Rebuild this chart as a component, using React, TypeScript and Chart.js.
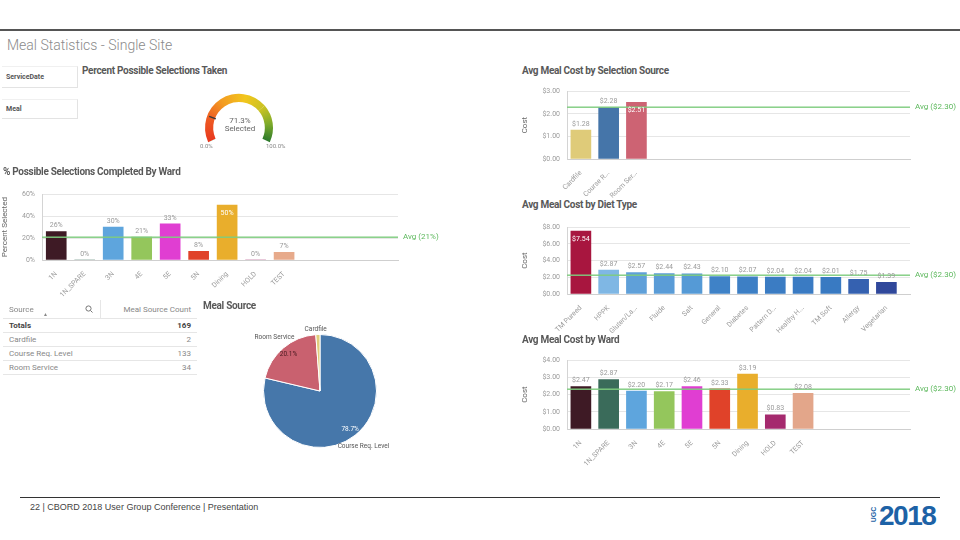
import React, { useEffect, useRef } from 'react';
import { Chart, registerables } from 'chart.js';
Chart.register(...registerables);

const FONT = 'Roboto, "Liberation Sans", sans-serif';

// ---------- data ----------
const gaugeValue = 71.3;
const gaugeMarker = 20;

const wardLabels = ['1N', '1N_SPARE', '3N', '4E', '5E', '5N', 'Dining', 'HOLD', 'TEST'];
const wardPct = [26, 0, 30, 21, 33, 8, 50, 0, 7];
const wardPctColors = ['#3e1a25', '#3a6b5a', '#5ea5dd', '#94c65c', '#e03ed2', '#e04229', '#e9ae2c', '#a52a6e', '#e7aa8b'];
const wardPctAvg = 21;

const sourceLabels = ['Course Req. Level', 'Room Service', 'Cardfile'];
const sourceCounts = [133, 34, 2];
const sourceColors = ['#4677aa', '#c9616f', '#e0cd7b'];
const sourcePctColors = ['#ffffff', '#4a1a20', '#333333'];

const selLabels = ['Cardfile', 'Course R...', 'Room Ser...'];
const selCost = [1.28, 2.28, 2.51];
const selColors = ['#dfcb79', '#4575a9', '#cd6373'];

const dietLabels = ['TM Pureed', 'HPPK', 'Gluten/La...', 'Fluide', 'Salt', 'General', 'Diabetes', 'Pattern D...', 'Healthy H...', 'TM Soft', 'Allergy', 'Vegetarian'];
const dietCost = [7.54, 2.87, 2.57, 2.44, 2.43, 2.10, 2.07, 2.04, 2.04, 2.01, 1.75, 1.39];
const dietColors = ['#a8163f', '#7fb7e4', '#5fa0d9', '#5a9cd7', '#559ad6', '#3f82c7', '#3d7fc5', '#3b7cc3', '#3a7bc3', '#397ac2', '#3561b0', '#30489b'];

const wardCost = [2.47, 2.87, 2.20, 2.17, 2.46, 2.33, 3.19, 0.83, 2.08];
const wardCostColors = ['#3e1a25', '#3a6b5a', '#5ea5dd', '#94c65c', '#e03ed2', '#e04229', '#e9ae2c', '#a52a6e', '#e3a68a'];

const costAvg = 2.30;

// ---------- helpers ----------
const pctFmt = (v: number) => `${Math.round(v)}%`;
const usdFmt = (v: number) => `$${v.toFixed(2)}`;

type BarProps = {
  labels: string[]; values: number[]; colors: string[];
  yMax: number; yStep: number; fmt: (v: number) => string;
  avg: number; avgLabel: string; xMax: number; barW: number;
  yTitle: string; yAxisW: number; xAxisH: number; padTop: number; padRight: number;
  left: number; top: number; width: number; height: number;
};

function BarChart(p: BarProps) {
  const ref = useRef<HTMLCanvasElement>(null);
  useEffect(() => {
    const labels = p.labels;
    const avgPlugin = {
      id: 'avgLine',
      afterDatasetsDraw(chart: any) {
        const { ctx, chartArea } = chart;
        const y = chart.scales.y.getPixelForValue(p.avg);
        ctx.save();
        ctx.setLineDash([]);
        ctx.globalAlpha = 1;
        ctx.globalCompositeOperation = 'source-over';
        ctx.fillStyle = '#7fcc7f';
        ctx.fillRect(chartArea.left, Math.round(y) - 0.5, chartArea.right - chartArea.left, 1.4);
        ctx.fillStyle = '#5cb85c';
        ctx.font = `8px ${FONT}`;
        ctx.textAlign = 'left';
        ctx.textBaseline = 'middle';
        ctx.fillText(p.avgLabel, chartArea.right + 5, y);
        ctx.restore();
      },
    };
    const labelPlugin = {
      id: 'valueLabels',
      afterDatasetsDraw(chart: any) {
        const { ctx, chartArea } = chart;
        const meta = chart.getDatasetMeta(0);
        ctx.save();
        ctx.font = `7px ${FONT}`;
        ctx.textAlign = 'center';
        ctx.textBaseline = 'middle';
        meta.data.forEach((el: any, i: number) => {
          const v = p.values[i];
          const top = el.y;
          if (top - chartArea.top < 12) {
            ctx.fillStyle = '#ffffff';
            ctx.fillText(p.fmt(v), el.x, top + 8);
          } else {
            ctx.fillStyle = '#9a9a9a';
            ctx.fillText(p.fmt(v), el.x, top - 6);
          }
        });
        ctx.restore();
      },
    };
    const chart = new Chart(ref.current as HTMLCanvasElement, {
      type: 'bar',
      data: {
        datasets: [{
          data: p.values.map((v, i) => ({ x: i, y: v })) as any,
          backgroundColor: p.colors,
          barThickness: p.barW,
          borderWidth: 0,
        }],
      },
      options: {
        animation: false,
        responsive: false,
        maintainAspectRatio: false,
        layout: { padding: { top: p.padTop, right: p.padRight, left: 0, bottom: 0 } },
        plugins: { legend: { display: false }, tooltip: { enabled: false } },
        scales: {
          x: {
            type: 'linear',
            offset: false,
            min: -0.5,
            max: p.xMax,
            grid: { display: false, offset: false },
            border: { display: true, color: '#cfcfcf' },
            afterFit: (s: any) => { s.height = p.xAxisH; },
            ticks: {
              stepSize: 1,
              autoSkip: false,
              includeBounds: false,
              minRotation: 45,
              maxRotation: 45,
              padding: 2,
              color: '#9a9a9a',
              font: { size: 7, family: FONT },
              callback: (v: any) => (Number.isInteger(v) && labels[v] !== undefined ? labels[v] : ''),
            },
          },
          y: {
            min: 0,
            max: p.yMax,
            grid: { color: '#e6e6e6', drawTicks: false },
            border: { display: true, color: '#d4d4d4' },
            afterFit: (s: any) => { s.width = p.yAxisW; },
            ticks: {
              stepSize: p.yStep,
              padding: 7,
              color: '#9a9a9a',
              font: { size: 7, family: FONT },
              callback: (v: any) => p.fmt(Number(v)),
            },
            title: { display: true, text: p.yTitle, color: '#666', font: { size: 8, family: FONT }, padding: 0 },
          },
        },
      } as any,
      plugins: [avgPlugin, labelPlugin],
    });
    return () => chart.destroy();
  }, []);
  return (
    <canvas
      ref={ref}
      width={p.width}
      height={p.height}
      style={{ position: 'absolute', left: p.left, top: p.top, width: p.width, height: p.height }}
    />
  );
}

function Gauge() {
  const ref = useRef<HTMLCanvasElement>(null);
  useEffect(() => {
    const start = -115;
    const span = 230;
    const grad = (c: any) => {
      const ch = c.chart;
      const ca = ch.chartArea;
      if (!ca) return '#f5a623';
      const ctrl: any = ch.getDatasetMeta(0).controller;
      const cx = (ca.left + ca.right) / 2 + (ctrl.offsetX || 0);
      const cy = (ca.top + ca.bottom) / 2 + (ctrl.offsetY || 0);
      const g = ch.ctx.createConicGradient(((start - 90) * Math.PI) / 180, cx, cy);
      const f = span / 360;
      g.addColorStop(0, '#e8381f');
      g.addColorStop(0.18 * f, '#ee5a22');
      g.addColorStop(0.35 * f, '#f39a22');
      g.addColorStop(0.55 * f, '#f2c61c');
      g.addColorStop(0.72 * f, '#c9c224');
      g.addColorStop(0.86 * f, '#7daa2a');
      g.addColorStop(f, '#2d7a2c');
      g.addColorStop(1, '#2d7a2c');
      return g;
    };
    const textPlugin = {
      id: 'gaugeText',
      afterDatasetsDraw(chart: any) {
        const { ctx } = chart;
        const arc = chart.getDatasetMeta(0).data[0];
        const { x, y, innerRadius, outerRadius } = arc;
        ctx.save();
        ctx.fillStyle = '#666';
        ctx.font = `8px ${FONT}`;
        ctx.textAlign = 'center';
        ctx.textBaseline = 'middle';
        ctx.fillText(`${gaugeValue.toFixed(1)}%`, x + 1, y - 7);
        ctx.fillText('Selected', x + 1, y + 1);
        const a = ((start - 90 + (gaugeMarker / 100) * span) * Math.PI) / 180;
        ctx.strokeStyle = '#3a3a3a';
        ctx.lineWidth = 1.5;
        ctx.beginPath();
        ctx.moveTo(x + Math.cos(a) * (innerRadius - 1), y + Math.sin(a) * (innerRadius - 1));
        ctx.lineTo(x + Math.cos(a) * (outerRadius - 2), y + Math.sin(a) * (outerRadius - 2));
        ctx.stroke();
        ctx.restore();
      },
    };
    const chart = new Chart(ref.current as HTMLCanvasElement, {
      type: 'doughnut',
      data: { datasets: [{ data: [gaugeValue, 100 - gaugeValue], backgroundColor: grad as any, borderWidth: 0 }] },
      options: {
        animation: false,
        responsive: false,
        rotation: start,
        circumference: span,
        cutout: '76%',
        layout: { padding: 10 },
        plugins: { legend: { display: false }, tooltip: { enabled: false } },
      } as any,
      plugins: [textPlugin],
    });
    return () => chart.destroy();
  }, []);
  return <canvas ref={ref} width={88} height={70} style={{ position: 'absolute', left: 195, top: 83, width: 88, height: 70 }} />;
}

function Pie() {
  const ref = useRef<HTMLCanvasElement>(null);
  useEffect(() => {
    const total = sourceCounts.reduce((a, b) => a + b, 0);
    const labelPlugin = {
      id: 'pieLabels',
      afterDatasetsDraw(chart: any) {
        const { ctx } = chart;
        const meta = chart.getDatasetMeta(0);
        ctx.save();
        ctx.font = `6.5px ${FONT}`;
        ctx.textAlign = 'center';
        ctx.textBaseline = 'middle';
        meta.data.forEach((arc: any, i: number) => {
          const { x, y, startAngle, endAngle, outerRadius } = arc;
          const mid = (startAngle + endAngle) / 2;
          const pct = (sourceCounts[i] / total) * 100;
          if (pct > 5) {
            ctx.fillStyle = sourcePctColors[i];
            ctx.fillText(`${pct.toFixed(1)}%`, x + Math.cos(mid) * outerRadius * 0.86, y + Math.sin(mid) * outerRadius * 0.86);
          }
          const rn = pct > 5 ? outerRadius * 1.24 : outerRadius + 5;
          ctx.fillStyle = '#555';
          ctx.fillText(sourceLabels[i], x + Math.cos(mid) * rn + (pct > 5 ? 0 : -2), y + Math.sin(mid) * rn);
        });
        ctx.restore();
      },
    };
    const chart = new Chart(ref.current as HTMLCanvasElement, {
      type: 'pie',
      data: { labels: sourceLabels, datasets: [{ data: sourceCounts, backgroundColor: sourceColors, borderColor: '#ffffff', borderWidth: 1 }] },
      options: {
        animation: false,
        responsive: false,
        layout: { padding: 13 },
        plugins: { legend: { display: false }, tooltip: { enabled: false } },
      } as any,
      plugins: [labelPlugin],
    });
    return () => chart.destroy();
  }, []);
  return <canvas ref={ref} width={170} height={140} style={{ position: 'absolute', left: 235, top: 321, width: 170, height: 140 }} />;
}

const abs = (left: number, top: number, extra: React.CSSProperties = {}): React.CSSProperties => ({
  position: 'absolute', left, top, whiteSpace: 'nowrap', ...extra,
});

const sectionTitle: React.CSSProperties = { fontFamily: FONT, fontWeight: 700, fontSize: 10, color: '#595959', letterSpacing: -0.3 };

function SourceTable() {
  const total = sourceCounts.reduce((a, b) => a + b, 0);
  const rows = sourceLabels.map((l, i) => ({ l, c: sourceCounts[i] })).sort((a, b) => a.l.localeCompare(b.l));
  const cell: React.CSSProperties = { fontFamily: FONT, fontSize: 8, color: '#888', height: 13, padding: '0 6px', borderBottom: '1px solid #e6e6e6' };
  return (
    <div style={abs(3, 300, { width: 194 })}>
      <table style={{ borderCollapse: 'collapse', width: 194 }}>
        <tbody>
          <tr>
            <td style={{ ...cell, height: 18, borderRight: '1px solid #e6e6e6', position: 'relative', width: 85 }}>
              <span>Source</span>
              <span style={{ position: 'absolute', left: 40, top: 11, fontSize: 5, color: '#888' }}>▲</span>
              <svg width="8" height="8" style={{ position: 'absolute', left: 82, top: 5 }}>
                <circle cx="3.5" cy="3.5" r="2.6" fill="none" stroke="#777" strokeWidth="1" />
                <line x1="5.5" y1="5.5" x2="7.5" y2="7.5" stroke="#777" strokeWidth="1" />
              </svg>
            </td>
            <td style={{ ...cell, height: 18, textAlign: 'right' }}>Meal Source Count</td>
          </tr>
          <tr>
            <td style={{ ...cell, color: '#444', fontWeight: 700 }}>Totals</td>
            <td style={{ ...cell, color: '#444', fontWeight: 700, textAlign: 'right' }}>{total}</td>
          </tr>
          {rows.map((r) => (
            <tr key={r.l}>
              <td style={cell}>{r.l}</td>
              <td style={{ ...cell, textAlign: 'right' }}>{r.c}</td>
            </tr>
          ))}
        </tbody>
      </table>
    </div>
  );
}

export default function App() {
  const filterBox: React.CSSProperties = {
    fontFamily: FONT, fontSize: 7, fontWeight: 700, color: '#555', width: 68, padding: '0 4px',
    borderRight: '1px solid #e3e3e3', borderBottom: '1px solid #e3e3e3', borderTop: '1px solid #f0f0f0',
    display: 'flex', alignItems: 'center', boxSizing: 'border-box',
  };
  return (
    <div style={{ position: 'fixed', left: 0, top: 0, width: 960, height: 540, background: '#fff', overflow: 'hidden', fontFamily: FONT }}>
      <div style={abs(0, 29, { width: 960, height: 2, background: '#555' })} />
      <div style={abs(7, 37, { fontFamily: FONT, fontSize: 14, color: '#8a8a8a', fontWeight: 300 })}>Meal Statistics - Single Site</div>

      <div style={{ ...abs(2, 66), ...filterBox, height: 22, width: 76 }}>ServiceDate</div>
      <div style={{ ...abs(2, 99), ...filterBox, height: 20, width: 76 }}>Meal</div>

      <div style={{ ...abs(82, 65), ...sectionTitle }}>Percent Possible Selections Taken</div>
      <Gauge />
      <div style={abs(200, 142, { fontSize: 6, color: '#888' })}>0.0%</div>
      <div style={abs(266, 142, { fontSize: 6, color: '#888' })}>100.0%</div>

      <div style={{ ...abs(3, 166), ...sectionTitle }}>% Possible Selections Completed By Ward</div>
      <BarChart
        labels={wardLabels} values={wardPct} colors={wardPctColors}
        yMax={60} yStep={20} fmt={pctFmt} avg={wardPctAvg} avgLabel={`Avg (${wardPctAvg}%)`}
        xMax={12} barW={20} yTitle="Percent Selected" yAxisW={42} xAxisH={40} padTop={6} padRight={52}
        left={0} top={183} width={450} height={117}
      />

      <SourceTable />

      <div style={{ ...abs(203, 300), ...sectionTitle }}>Meal Source</div>
      <Pie />

      <div style={{ ...abs(522, 65), ...sectionTitle }}>Avg Meal Cost by Selection Source</div>
      <BarChart
        labels={selLabels} values={selCost} colors={selColors}
        yMax={3} yStep={1} fmt={usdFmt} avg={costAvg} avgLabel={`Avg (${usdFmt(costAvg)})`}
        xMax={11.85} barW={20} yTitle="Cost" yAxisW={47} xAxisH={40} padTop={6} padRight={50}
        left={520} top={80} width={440} height={119}
      />

      <div style={{ ...abs(522, 199), ...sectionTitle }}>Avg Meal Cost by Diet Type</div>
      <BarChart
        labels={dietLabels} values={dietCost} colors={dietColors}
        yMax={8} yStep={2} fmt={usdFmt} avg={costAvg} avgLabel={`Avg (${usdFmt(costAvg)})`}
        xMax={11.85} barW={20} yTitle="Cost" yAxisW={47} xAxisH={45} padTop={6} padRight={50}
        left={520} top={216} width={440} height={123}
      />

      <div style={{ ...abs(522, 334), ...sectionTitle }}>Avg Meal Cost by Ward</div>
      <BarChart
        labels={wardLabels} values={wardCost} colors={wardCostColors}
        yMax={4} yStep={1} fmt={usdFmt} avg={costAvg} avgLabel={`Avg (${usdFmt(costAvg)})`}
        xMax={11.85} barW={20} yTitle="Cost" yAxisW={47} xAxisH={45} padTop={6} padRight={50}
        left={520} top={349} width={440} height={125}
      />

      <div style={abs(20, 497, { width: 920, height: 1, background: '#333' })} />
      <div style={abs(30, 502, { fontFamily: '"Liberation Sans", Arial, sans-serif', fontSize: 9, color: '#444' })}>
        22 | CBORD 2018 User Group Conference | Presentation
      </div>
      <div style={abs(866, 511, { fontFamily: '"Liberation Sans", Arial, sans-serif', fontSize: 7, fontWeight: 700, color: '#1d62a6', transform: 'rotate(-90deg)', transformOrigin: 'center' })}>UGC</div>
      <div style={abs(879, 500, { fontFamily: '"Liberation Sans", Arial, sans-serif', fontSize: 28, fontWeight: 700, color: '#1d62a6', letterSpacing: -1.5 })}>2018</div>
    </div>
  );
}
